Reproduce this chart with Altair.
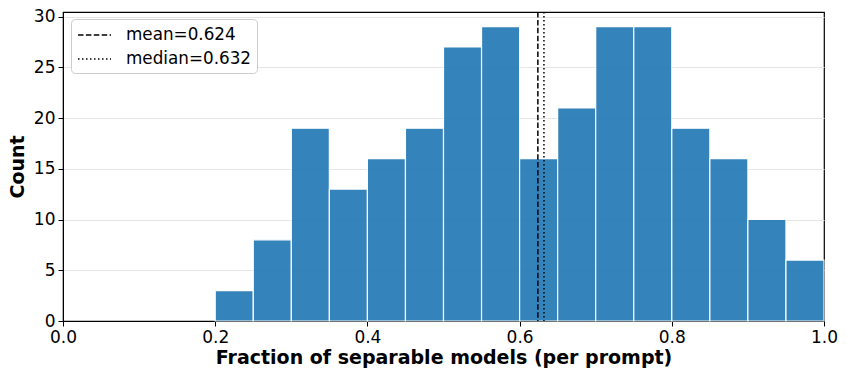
import altair as alt
import pandas as pd

bin_start = [0.20, 0.25, 0.30, 0.35, 0.40, 0.45, 0.50, 0.55, 0.60, 0.65, 0.70, 0.75, 0.80, 0.85, 0.90, 0.95]
counts = [3, 8, 19, 13, 16, 19, 27, 29, 16, 21, 29, 29, 19, 16, 10, 6]
bin_width = 0.05
stat_labels = ["mean=0.624", "median=0.632"]
stat_values = [0.624, 0.632]

bars_df = pd.DataFrame({
    "start": bin_start,
    "end": [round(b + bin_width, 2) for b in bin_start],
    "count": counts,
})
stats_df = pd.DataFrame({"label": stat_labels, "value": stat_values})

FONT = "DejaVu Sans"

xscale = alt.Scale(domain=[0, 1], nice=False, zero=False)
yscale = alt.Scale(domain=[0, 30.45], nice=False)

bars = alt.Chart(bars_df).mark_bar(
    color="#1f77b4", opacity=0.9, stroke="white", strokeWidth=1.2
).encode(
    x=alt.X("start:Q", scale=xscale,
            axis=alt.Axis(title="Fraction of separable models (per prompt)",
                          values=[0, 0.2, 0.4, 0.6, 0.8, 1.0], format=".1f",
                          grid=False)),
    x2="end:Q",
    y=alt.Y("count:Q", scale=yscale,
            axis=alt.Axis(title="Count", values=[0, 5, 10, 15, 20, 25, 30],
                          grid=True, gridColor="#e6e6e6", gridWidth=1)),
    y2=alt.datum(0),
)

rules = alt.Chart(stats_df).mark_rule(color="black", strokeWidth=1.5).encode(
    x=alt.X("value:Q", scale=xscale),
    strokeDash=alt.StrokeDash(
        "label:N",
        scale=alt.Scale(domain=stat_labels, range=[[5.5, 2.4], [1.5, 2.5]]),
        legend=alt.Legend(
            title=None, orient="none", legendX=8, legendY=7,
            symbolType="M-0.9,0L2.4,0", symbolStrokeColor="black", symbolStrokeWidth=1.5,
            symbolSize=400, labelFontSize=16.8, labelFont=FONT, labelColor="black",
            fillColor="white", strokeColor="#cccccc", cornerRadius=4,
            padding=5, rowPadding=4, labelOffset=28,
        ),
    ),
)

chart = alt.layer(bars, rules).properties(
    width=761, height=309,
    autosize=alt.AutoSizeParams(type="none"),
    padding={"left": 55, "top": 4, "right": 15, "bottom": 52},
).configure_view(
    stroke="black", strokeWidth=1.2
).configure_axis(
    labelFont=FONT, titleFont=FONT, labelFontSize=17, titleFontSize=19,
    titleFontWeight="bold", labelColor="black", titleColor="black",
    domain=True, domainColor="black", tickColor="black", tickSize=5,
    labelPadding=3, labelFlush=False,
).configure_axisY(titlePadding=6).configure_axisX(titlePadding=3)

chart.save("out.html", embed_options={"renderer": "svg", "actions": False})
